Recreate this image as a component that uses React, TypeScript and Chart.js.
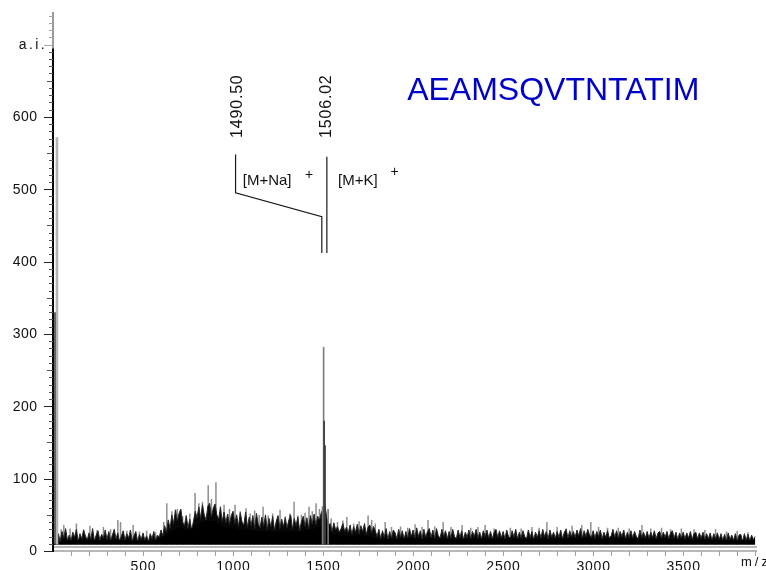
import { useEffect, useRef } from "react";
import { Chart, registerables } from "chart.js";

Chart.register(...registerables);

// ---- axes ----
const X_MIN = 0;
const X_MAX = 3910;
const Y_MIN = 0;
const Y_MAX = 745;
const xTickLabels = [500, 1000, 1500, 2000, 2500, 3000, 3500];
const yTickLabels = [0, 100, 200, 300, 400, 500, 600];
const xAxisTitle = "m/z";
const yAxisTitle = "a.i.";

// ---- spectrum (intensity, a.i.) ----
const baseline = 9;
// dense noise envelope, one value every 10 m/z from 0 to 3900
const noiseStep = 10;
const noiseTop = [
  9, 9, 16, 24, 13, 27, 18, 31, 15, 22,
  14, 26, 19, 30, 13, 24, 17, 29, 21, 15,
  25, 16, 31, 14, 22, 28, 15, 23, 18, 29,
  16, 27, 14, 22, 30, 17, 25, 13, 21, 28,
  15, 24, 18, 29, 14, 21, 27, 13, 23, 16,
  25, 15, 21, 13, 24, 17, 27, 14, 22, 19,
  29, 21, 35, 26, 43, 31, 50, 38, 57, 42,
  52, 58, 40, 35, 49, 32, 44, 29, 41, 55,
  46, 61, 45, 64, 50, 43, 62, 66, 47, 59,
  65, 50, 44, 60, 41, 54, 39, 51, 37, 49,
  55, 38, 50, 34, 53, 40, 36, 54, 33, 47,
  35, 49, 31, 52, 37, 32, 47, 34, 50, 30,
  45, 33, 48, 29, 41, 49, 31, 44, 34, 46,
  32, 43, 50, 30, 45, 35, 47, 28, 41, 48,
  34, 46, 31, 49, 37, 51, 36, 48, 43, 53,
  58, 64, 47, 36, 38, 27, 39, 29, 34, 26,
  31, 38, 27, 33, 25, 36, 23, 34, 26, 37,
  24, 35, 27, 38, 23, 33, 36, 25, 34, 28,
  20, 30, 17, 28, 19, 31, 16, 27, 18, 29,
  25, 17, 30, 19, 28, 16, 27, 18, 31, 20,
  29, 18, 32, 20, 28, 17, 30, 19, 27, 31,
  19, 29, 17, 31, 21, 18, 30, 20, 28, 17,
  27, 18, 30, 20, 17, 29, 19, 28, 16, 26,
  19, 29, 17, 27, 20, 30, 18, 26, 17, 28,
  20, 29, 18, 27, 17, 26, 30, 19, 28, 18,
  27, 17, 29, 20, 18, 28, 19, 30, 17, 26,
  18, 28, 20, 17, 29, 19, 27, 16, 26, 19,
  28, 18, 30, 20, 27, 17, 29, 19, 26, 18,
  27, 19, 29, 17, 26, 30, 18, 28, 20, 27,
  19, 29, 21, 31, 18, 28, 20, 30, 22, 19,
  28, 18, 27, 20, 29, 17, 26, 19, 28, 18,
  21, 30, 19, 28, 18, 27, 20, 29, 17, 26,
  19, 28, 18, 27, 20, 17, 29, 19, 26, 18,
  27, 18, 26, 19, 28, 17, 25, 27, 18, 26,
  19, 27, 17, 25, 28, 18, 26, 16, 25, 18,
  26, 17, 25, 18, 27, 16, 24, 26, 17, 25,
  18, 26, 16, 24, 17, 25, 15, 24, 17, 25,
  16, 24, 15, 23, 14, 25, 16, 22, 15, 24,
  14, 22, 23, 13, 24, 15, 23, 14, 22, 16,
  20,
];
// solid core of the noise band, one value every 50 m/z from 0 to 3900
const coreStep = 50;
const coreTop = [
  9, 12, 14, 15, 15, 14, 14, 15, 14, 13,
  14, 13, 17, 26, 32, 27, 36, 41, 40, 33,
  31, 29, 28, 27, 27, 26, 27, 26, 28, 30,
  34, 23, 21, 20, 21, 20, 16, 16, 16, 17,
  17, 16, 17, 16, 16, 16, 16, 16, 16, 16,
  16, 16, 16, 16, 17, 16, 16, 17, 17, 17,
  16, 16, 16, 17, 16, 16, 16, 16, 16, 15,
  16, 15, 15, 15, 15, 14, 14, 14, 14,
];
// grey spikes standing above the band: [m/z, intensity]
const minorSpikes: [number, number][] = [
  [45, 30], [60, 36], [95, 31], [130, 38], [170, 30], [205, 35], [245, 29],
  [280, 33], [320, 30], [360, 43], [375, 40], [410, 28], [445, 36], [480, 27],
  [520, 28], [570, 26],
  [615, 40], [632, 66], [660, 55], [690, 58], [720, 48], [760, 52], [789, 80],
  [810, 66], [830, 68], [862, 91], [880, 72], [905, 95], [930, 62], [950, 64],
  [980, 58],
  [1011, 64], [1040, 55], [1072, 59], [1095, 52], [1120, 56], [1145, 50],
  [1167, 61], [1195, 49], [1220, 52], [1261, 57], [1290, 48], [1315, 52],
  [1339, 68], [1360, 49], [1380, 50], [1400, 53], [1422, 61], [1440, 55],
  [1461, 66], [1480, 58],
  [1545, 45], [1580, 40], [1610, 42], [1632, 47], [1670, 38], [1700, 41],
  [1750, 49], [1770, 43], [1790, 38],
  [1845, 40], [1880, 33], [1930, 34], [1970, 32], [2011, 37], [2050, 33],
  [2083, 43], [2120, 34], [2167, 40], [2210, 33], [2272, 36], [2320, 32],
  [2360, 33], [2400, 36], [2450, 31],
  [2540, 32], [2600, 31], [2660, 33], [2700, 32], [2743, 40], [2800, 33],
  [2850, 31], [2883, 35], [2937, 36], [2987, 40], [3030, 33], [3080, 32],
  [3140, 32], [3200, 31], [3271, 36], [3320, 31], [3380, 32], [3430, 30],
  [3490, 31], [3560, 30], [3620, 29], [3680, 30], [3740, 27], [3800, 28],
  [3860, 26],
];
// main peak cluster
const peakGray: [number, number][] = [[1497, 62], [1503, 282], [1528, 58]];
const peakDark: [number, number][] = [[1506, 180], [1511, 146]];
// low-mass signals at the left edge
const lowMassDark: [number, number][] = [[14, 330]];
const lowMassGray: [number, number][] = [[22, 572]];

// ---- annotation texts ----
const naMass = "1490.50";
const kMass = "1506.02";
const naAdduct = "[M+Na]";
const kAdduct = "[M+K]";
const peptide = "AEAMSQVTNTATIM";

const FONT = "'Liberation Sans', Arial, Helvetica, sans-serif";
const NARROW = "'Liberation Sans Narrow', 'Liberation Sans', Arial, sans-serif";

const bandData = (vals: number[], step: number) =>
  vals.map((v, i) => ({ x: i * step, y: v }));

const spikeData = (list: [number, number][]) =>
  list.flatMap(([mz, h]) => [
    { x: mz, y: baseline },
    { x: mz, y: h },
    { x: mz, y: null as any },
  ]);

const decorPlugin = {
  id: "decor",
  afterDatasetsDraw(chart: any) {
    const { ctx, chartArea: a, scales } = chart;
    const xs = scales.x;
    const ys = scales.y;
    const X = (v: number) => xs.getPixelForValue(v);
    const Y = (v: number) => ys.getPixelForValue(v);
    const line = (x1: number, y1: number, x2: number, y2: number) => {
      ctx.beginPath();
      ctx.moveTo(x1, y1);
      ctx.lineTo(x2, y2);
      ctx.stroke();
    };
    ctx.save();

    // x axis: double grey line + ticks
    const y0 = Y(0);
    ctx.strokeStyle = "#a0a0a0";
    ctx.lineWidth = 1.3;
    line(a.left, y0, a.right, y0);
    line(a.left, y0 - 4, a.right, y0 - 4);
    ctx.lineWidth = 1;
    for (let v = 100; v < X_MAX; v += 100) {
      const px = Math.round(X(v)) + 0.5;
      line(px, y0, px, y0 + 5);
    }

    // y axis: black up to 700, grey above
    const ax = a.left;
    const yBreak = Y(695);
    ctx.lineWidth = 2;
    ctx.strokeStyle = "#000";
    line(ax, y0 + 1, ax, yBreak);
    ctx.strokeStyle = "#9a9a9a";
    line(ax, yBreak, ax, a.top);
    ctx.lineWidth = 1;
    for (let v = 0; v <= 740; v += 10) {
      const py = Math.round(Y(v)) + 0.5;
      const len = v % 100 === 0 ? 9 : v % 50 === 0 ? 6 : 4;
      ctx.strokeStyle = v > 695 ? "#a8a8a8" : v % 100 === 0 ? "#222" : "#555";
      line(ax - len, py, ax, py);
    }

    // tick labels
    ctx.fillStyle = "#111";
    ctx.font = `14px ${FONT}`;
    (ctx as any).letterSpacing = "0.8px";
    ctx.textAlign = "center";
    ctx.textBaseline = "alphabetic";
    xTickLabels.forEach((v) => ctx.fillText(String(v), X(v) + 0.4, 571));
    (ctx as any).letterSpacing = "0.5px";
    ctx.textAlign = "right";
    ctx.textBaseline = "middle";
    yTickLabels.forEach((v) => ctx.fillText(String(v), ax - 15.5, Y(v) + 0.5));

    // axis titles
    ctx.font = `14px ${FONT}`;
    (ctx as any).letterSpacing = "2.4px";
    ctx.textAlign = "right";
    ctx.fillText(yAxisTitle, ax - 6, Y(700) + 1);
    (ctx as any).letterSpacing = "3px";
    ctx.font = `13px ${FONT}`;
    ctx.textAlign = "left";
    ctx.textBaseline = "alphabetic";
    ctx.fillText(xAxisTitle, 741, 566);

    // peak annotation brackets
    ctx.strokeStyle = "#1a1a1a";
    ctx.lineWidth = 1.2;
    ctx.beginPath();
    ctx.moveTo(X(1014), Y(548));
    ctx.lineTo(X(1014), Y(495));
    ctx.lineTo(X(1493), Y(462));
    ctx.lineTo(X(1493), Y(412));
    ctx.stroke();
    line(X(1521), Y(545), X(1521), Y(412));

    // rotated mass labels
    ctx.fillStyle = "#111";
    ctx.font = `16px ${FONT}`;
    (ctx as any).letterSpacing = "0.8px";
    const rot = (txt: string, mz: number, v: number) => {
      ctx.save();
      ctx.translate(X(mz), Y(v));
      ctx.rotate(-Math.PI / 2);
      ctx.textAlign = "left";
      ctx.textBaseline = "middle";
      ctx.fillText(txt, 0, 0);
      ctx.restore();
    };
    rot(naMass, 1025, 571);
    rot(kMass, 1519, 571);

    // adduct labels
    ctx.font = `15px ${NARROW}`;
    (ctx as any).letterSpacing = "0px";
    ctx.textAlign = "left";
    ctx.textBaseline = "middle";
    ctx.fillText(naAdduct, X(1054), Y(512));
    ctx.fillText(kAdduct, X(1583), Y(512));
    ctx.font = `14px ${FONT}`;
    ctx.textAlign = "center";
    ctx.fillText("+", X(1422), Y(520));
    ctx.fillText("+", X(1897), Y(523));

    // peptide sequence
    ctx.fillStyle = "#0000cc";
    ctx.font = `32px ${FONT}`;
    ctx.textAlign = "left";
    ctx.textBaseline = "alphabetic";
    ctx.fillText(peptide, X(1967), Y(624));

    ctx.restore();
  },
};

export default function App() {
  const ref = useRef<HTMLCanvasElement | null>(null);

  useEffect(() => {
    if (!ref.current) return;
    const chart = new Chart(ref.current, {
      type: "line",
      data: {
        datasets: [
          {
            data: spikeData(lowMassGray) as any,
            borderColor: "#b4b4b4",
            borderWidth: 2.6,
            pointRadius: 0,
            fill: false,
            order: 1,
          },
          {
            data: spikeData(lowMassDark) as any,
            borderColor: "#3a3a3a",
            borderWidth: 2.6,
            pointRadius: 0,
            fill: false,
            order: 2,
          },
          {
            data: spikeData(peakDark) as any,
            borderColor: "#3c3c3c",
            borderWidth: 1.6,
            pointRadius: 0,
            fill: false,
            order: 3,
          },
          {
            data: spikeData(peakGray) as any,
            borderColor: "#7a7a7a",
            borderWidth: 1.6,
            pointRadius: 0,
            fill: false,
            order: 4,
          },
          {
            data: bandData(coreTop, coreStep),
            borderColor: "#000",
            borderWidth: 1,
            backgroundColor: "#000",
            pointRadius: 0,
            fill: { value: baseline },
            order: 5,
          },
          {
            data: bandData(noiseTop, noiseStep),
            borderColor: "#262626",
            borderWidth: 1,
            backgroundColor: "#080808",
            pointRadius: 0,
            fill: { value: baseline },
            order: 6,
          },
          {
            data: spikeData(minorSpikes) as any,
            borderColor: "#8e8e8e",
            borderWidth: 1.5,
            pointRadius: 0,
            fill: false,
            order: 7,
          },
        ],
      },
      options: {
        animation: false,
        responsive: false,
        devicePixelRatio: 1,
        events: [],
        layout: { padding: { left: 53, right: 9, top: 12, bottom: 19 } },
        elements: { line: { tension: 0 } },
        plugins: { legend: { display: false }, tooltip: { enabled: false } },
        scales: {
          x: { type: "linear", min: X_MIN, max: X_MAX, display: false },
          y: { type: "linear", min: Y_MIN, max: Y_MAX, display: false },
        },
      },
      plugins: [decorPlugin],
    });
    return () => chart.destroy();
  }, []);

  return (
    <div
      style={{
        position: "fixed",
        left: 0,
        top: 0,
        width: 766,
        height: 570,
        background: "#fff",
      }}
    >
      <canvas
        ref={ref}
        width={766}
        height={570}
        style={{ display: "block", width: 766, height: 570 }}
      />
    </div>
  );
}
